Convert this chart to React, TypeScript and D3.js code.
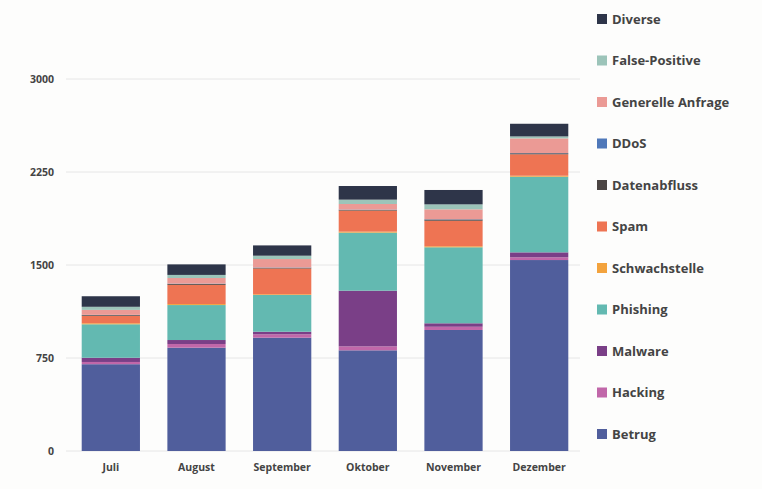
import React from "react";
import * as d3 from "d3";

const months = ["Juli", "August", "September", "Oktober", "November", "Dezember"];
const seriesNames = ["Betrug", "Hacking", "Malware", "Phishing", "Schwachstelle", "Spam", "Datenabfluss", "DDoS", "Generelle Anfrage", "False-Positive", "Diverse"];
const seriesColors = ["#505e9c", "#c167a9", "#7a3f87", "#63b9b1", "#f3a33d", "#ee7453", "#4b4543", "#4f78b9", "#eb9a95", "#9cc4b9", "#2e3549"];

const betrug = [700, 833, 914, 812, 976, 1540];
const hacking = [18, 30, 27, 32, 26, 22];
const malware = [34, 32, 21, 449, 28, 40];
const phishing = [270, 282, 296, 468, 613, 610];
const schwachstelle = [8, 8, 6, 8, 8, 8];
const spam = [60, 155, 208, 170, 206, 173];
const datenabfluss = [6, 8, 6, 6, 10, 8];
const ddos = [2, 2, 2, 2, 2, 2];
const generelleAnfrage = [40, 45, 68, 45, 80, 118];
const falsePositive = [25, 25, 27, 35, 40, 16];
const diverse = [85, 85, 83, 110, 116, 102];

const yTicks = [0, 750, 1500, 2250, 3000];

const seriesValues = [betrug, hacking, malware, phishing, schwachstelle, spam, datenabfluss, ddos, generelleAnfrage, falsePositive, diverse];

export default function App() {
  const W = 762, H = 489;
  const x = d3.scaleBand<string>().domain(months).range([68, 582]).paddingInner(0.32).paddingOuter(0.16);
  const y = d3.scaleLinear().domain([0, 3000]).range([451, 79]);

  const table = months.map((m, i) => {
    const row: any = { month: m };
    seriesNames.forEach((s, j) => (row[s] = seriesValues[j][i]));
    return row;
  });
  const stacked = d3.stack<any>().keys(seriesNames)(table);

  const font = "'Open Sans', 'Noto Sans', sans-serif";

  return (
    <div style={{ position: "fixed", left: 0, top: 0 }}>
      <svg width={W} height={H} style={{ display: "block", background: "#fdfdfc" }}>
        {yTicks.map((t) => (
          <g key={t}>
            <line x1={66} x2={580} y1={y(t)} y2={y(t)} stroke="#e6e6e6" strokeWidth={1} />
            <text x={54} y={y(t)} dy="0.35em" textAnchor="end" fontFamily={font} fontWeight={700} fontSize={10.5} fill="#444">
              {t}
            </text>
          </g>
        ))}
        {stacked.map((layer, j) => (
          <g key={layer.key} fill={seriesColors[j]}>
            {layer.map((d, i) => (
              <rect key={i} x={x(months[i])} width={x.bandwidth()} y={y(d[1])} height={Math.max(0, y(d[0]) - y(d[1]))} />
            ))}
          </g>
        ))}
        {months.map((m) => (
          <text key={m} x={(x(m) as number) + x.bandwidth() / 2} y={467} dy="0.35em" textAnchor="middle" fontFamily={font} fontWeight={700} fontSize={10.5} fill="#444">
            {m}
          </text>
        ))}
        {seriesNames
          .slice()
          .reverse()
          .map((s, k) => {
            const j = seriesNames.length - 1 - k;
            const cy = 19 + k * 41.5;
            return (
              <g key={s}>
                <rect x={597} y={cy - 5} width={10} height={10} fill={seriesColors[j]} />
                <text x={612} y={cy} dy="0.35em" fontFamily={font} fontWeight={700} fontSize={13} fill="#444">
                  {s}
                </text>
              </g>
            );
          })}
      </svg>
    </div>
  );
}
